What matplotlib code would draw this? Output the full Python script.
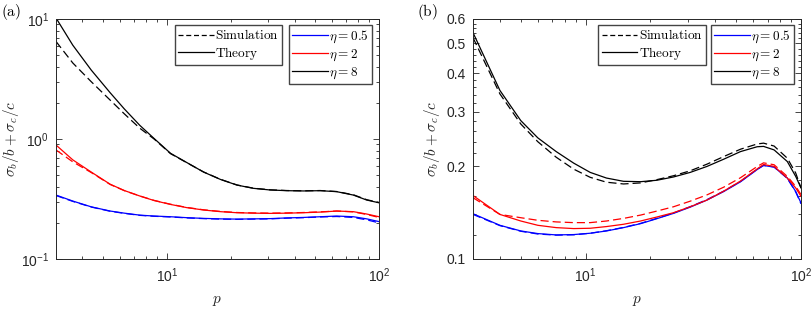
import numpy as np
import matplotlib
matplotlib.use('Agg')
import matplotlib.pyplot as plt
from matplotlib.ticker import FixedLocator, FixedFormatter, NullFormatter, LogLocator
from matplotlib.lines import Line2D

# ---------------- data: panel (a) ----------------
p_a = [3, 3.6, 4.4, 5.4, 6.3, 7.45, 8.7, 10.4, 12.4, 14.9, 17.9, 21.4, 25.6,
       30.7, 36.8, 44.1, 52.8, 63.2, 75.7, 87.5, 100]
th8_a = [10.2, 6.05, 3.75, 2.43, 1.78, 1.30, 1.01, 0.76, 0.637, 0.530, 0.460, 0.413,
         0.388, 0.376, 0.371, 0.369, 0.371, 0.364, 0.341, 0.31, 0.294]
sim8_a = [6.5, 4.3, 3.0, 2.11, 1.62, 1.23, 1.0, 0.755, 0.635, 0.531, 0.461, 0.414,
          0.389, 0.377, 0.372, 0.370, 0.372, 0.365, 0.343, 0.312, 0.296]
th2_a = [0.891, 0.67, 0.53, 0.42, 0.372, 0.335, 0.307, 0.285, 0.268, 0.256, 0.248,
         0.243, 0.241, 0.240, 0.241, 0.243, 0.246, 0.251, 0.248, 0.237, 0.225]
sim2_a = [0.81, 0.645, 0.525, 0.418, 0.371, 0.335, 0.308, 0.286, 0.269, 0.257, 0.249,
          0.244, 0.242, 0.241, 0.242, 0.244, 0.247, 0.251, 0.247, 0.235, 0.222]
th05_a = [0.341, 0.304, 0.272, 0.251, 0.241, 0.232, 0.228, 0.225, 0.221, 0.218, 0.216,
          0.215, 0.216, 0.217, 0.220, 0.222, 0.225, 0.228, 0.225, 0.216, 0.205]
sim05_a = [0.338, 0.302, 0.271, 0.250, 0.240, 0.231, 0.227, 0.224, 0.220, 0.217, 0.215,
           0.214, 0.215, 0.216, 0.219, 0.221, 0.224, 0.226, 0.222, 0.212, 0.200]

# ---------------- data: panel (b) ----------------
p_b = [3, 4, 5, 6, 7.3, 8.8, 10.5, 12.5, 15, 18, 21.4, 25.6, 30.6, 36.6, 43.8,
       52.4, 62.6, 67, 75, 86.4, 94.5, 100]
th8_b = [0.542, 0.352, 0.281, 0.247, 0.223, 0.2046, 0.1909, 0.183, 0.1786, 0.1781,
         0.180, 0.1845, 0.1909, 0.1996, 0.2107, 0.223, 0.2312, 0.2318, 0.2258, 0.207,
         0.1853, 0.170]
sim8_b = [0.522, 0.343, 0.274, 0.240, 0.2138, 0.1956, 0.184, 0.1774, 0.1751, 0.1765,
          0.1808, 0.1862, 0.1932, 0.2030, 0.2149, 0.2270, 0.2360, 0.2375, 0.2324,
          0.2122, 0.190, 0.170]
th2_b = [0.1606, 0.1395, 0.1328, 0.1286, 0.1264, 0.1255, 0.1258, 0.1274, 0.1296,
         0.1328, 0.1368, 0.1413, 0.1477, 0.1553, 0.166, 0.179, 0.196, 0.2025, 0.1996,
         0.183, 0.170, 0.1597]
sim2_b = [0.158, 0.1395, 0.1361, 0.1335, 0.1319, 0.1312, 0.1312, 0.1328, 0.1354,
          0.1388, 0.143, 0.1477, 0.154, 0.1614, 0.171, 0.1835, 0.1995, 0.2050, 0.2021,
          0.1853, 0.172, 0.1618]
th05_b = [0.1402, 0.1286, 0.1233, 0.1209, 0.1197, 0.12, 0.1212, 0.1233, 0.1264,
          0.1302, 0.1351, 0.1406, 0.1473, 0.1553, 0.1655, 0.178, 0.195, 0.2010, 0.1986,
          0.183, 0.1655, 0.152]
sim05_b = [0.1395, 0.1283, 0.1230, 0.1205, 0.1195, 0.1198, 0.1212, 0.1235, 0.1266,
           0.1305, 0.1354, 0.141, 0.1478, 0.1558, 0.166, 0.1785, 0.1955, 0.2012, 0.1988,
           0.1825, 0.165, 0.151]

yticks_b = [0.1, 0.2, 0.3, 0.4, 0.5, 0.6]
yticklabels_b = ['0.1', '0.2', '0.3', '0.4', '0.5', '0.6']

style_labels = [r'$\mathrm{Simulation}$', r'$\mathrm{Theory}$']
eta_labels = [r'$\eta = 0.5$', r'$\eta = 2$', r'$\eta = 8$']
eta_colors = ['#0000ff', '#ff0000', '#000000']

# ---------------- style ----------------
plt.rcParams['font.family'] = ['Liberation Sans', 'DejaVu Sans']
plt.rcParams['mathtext.fontset'] = 'custom'
plt.rcParams['mathtext.rm'] = 'Liberation Sans'
plt.rcParams['mathtext.it'] = 'Liberation Sans:italic'
plt.rcParams['mathtext.bf'] = 'Liberation Sans:bold'

AXC = '#262626'
LW = 0.9
DASH = (6.5, 3.2)

fig = plt.figure(figsize=(8.12, 3.10), dpi=100)
axA = fig.add_axes([56 / 812, (310 - 259) / 310, 323 / 812, 240 / 310])
axB = fig.add_axes([473 / 812, (310 - 259) / 310, 328 / 812, 240 / 310])


def draw(ax, p, sims, ths):
    for s, t, c in zip(sims, ths, eta_colors):
        ax.plot(p, t, color=c, lw=LW, solid_joinstyle='round')
        ax.plot(p, s, color=c, lw=LW, linestyle=(0, DASH))


draw(axA, p_a, [sim05_a, sim2_a, sim8_a], [th05_a, th2_a, th8_a])
draw(axB, p_b, [sim05_b, sim2_b, sim8_b], [th05_b, th2_b, th8_b])

for ax in (axA, axB):
    ax.set_xscale('log')
    ax.set_yscale('log')
    ax.set_xlim(3, 100)
    ax.xaxis.set_major_locator(FixedLocator([10, 100]))
    ax.xaxis.set_minor_locator(LogLocator(base=10, subs=np.arange(2, 10)))
    ax.xaxis.set_minor_formatter(NullFormatter())
    ax.tick_params(which='both', direction='in', top=True, right=True,
                   color=AXC, labelcolor=AXC, labelsize=10, width=0.6)
    ax.tick_params(which='major', length=4, pad=5)
    ax.tick_params(which='minor', length=2)
    for sp in ax.spines.values():
        sp.set_linewidth(0.7)
        sp.set_color(AXC)
    ax.set_xlabel(r'$p$', fontsize=11, math_fontfamily='cm', color=AXC)
    ax.xaxis.set_label_coords(0.5, -0.145)

axA.set_ylim(0.1, 10)
axA.yaxis.set_major_locator(FixedLocator([0.1, 1, 10]))
axA.yaxis.set_minor_locator(LogLocator(base=10, subs=np.arange(2, 10)))
axA.yaxis.set_minor_formatter(NullFormatter())

axB.set_ylim(0.1, 0.6)
axB.yaxis.set_major_locator(FixedLocator(yticks_b))
axB.yaxis.set_major_formatter(FixedFormatter(yticklabels_b))
axB.yaxis.set_minor_locator(FixedLocator(np.arange(0.12, 0.6, 0.02)))
axB.yaxis.set_minor_formatter(NullFormatter())

axA.set_ylabel(r'$\sigma_b/b+\sigma_c/c$', fontsize=11, math_fontfamily='cm', color=AXC)
axA.yaxis.set_label_coords(-0.108, 0.5)
axB.set_ylabel(r'$\sigma_b/b+\sigma_c/c$', fontsize=11, math_fontfamily='cm', color=AXC)
axB.yaxis.set_label_coords(-0.093, 0.5)

# legends
for ax, x1, x2 in ((axA, 0.700, 0.978), (axB, 0.710, 0.979)):
    h1 = [Line2D([], [], color='k', lw=LW, linestyle=(0, (4, 2.2))),
          Line2D([], [], color='k', lw=LW)]
    leg1 = ax.legend(h1, style_labels, loc='upper right', bbox_to_anchor=(x1, 0.975),
                     borderaxespad=0, fontsize=9.5, handlelength=2.7, handletextpad=0.1,
                     borderpad=0.25, labelspacing=0.2, fancybox=False, framealpha=1,
                     edgecolor='#444444')
    leg1.get_frame().set_linewidth(1.0)
    for t in leg1.get_texts():
        t.set_math_fontfamily('cm')
    ax.add_artist(leg1)
    h2 = [Line2D([], [], color=c, lw=LW) for c in eta_colors]
    leg2 = ax.legend(h2, eta_labels, loc='upper right', bbox_to_anchor=(x2, 0.975),
                     borderaxespad=0, fontsize=9.5, handlelength=2.7, handletextpad=0.1,
                     borderpad=0.25, labelspacing=0.2, fancybox=False, framealpha=1,
                     edgecolor='#444444')
    leg2.get_frame().set_linewidth(1.0)
    for t in leg2.get_texts():
        t.set_math_fontfamily('cm')

fig.text(1 / 812, 1 - 2 / 310, r'$\mathrm{(a)}$', fontsize=11, math_fontfamily='cm',
         va='top', ha='left', color='k')
fig.text(417 / 812, 1 - 2 / 310, r'$\mathrm{(b)}$', fontsize=11, math_fontfamily='cm',
         va='top', ha='left', color='k')

fig.savefig('out.png', dpi=100)
